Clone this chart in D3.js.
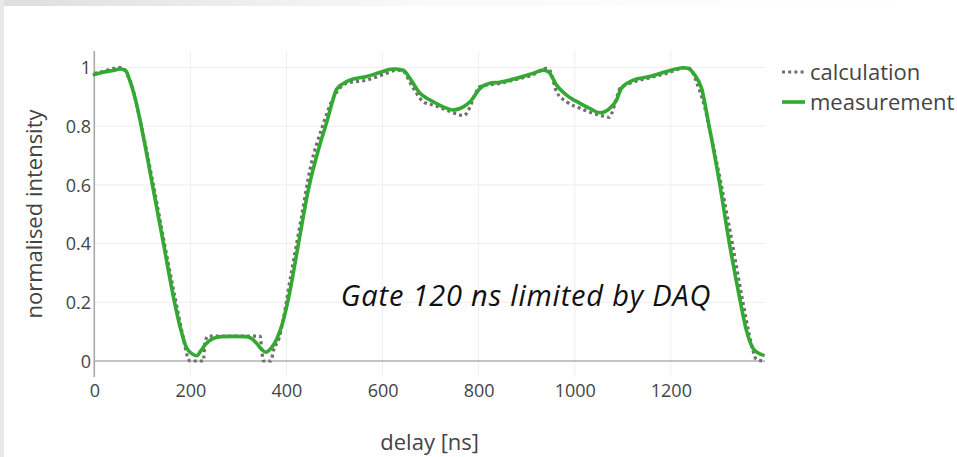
<!DOCTYPE html>
<html>
<head>
<meta charset="utf-8">
<script src="https://cdn.jsdelivr.net/npm/d3@7"></script>
<style>
  html, body { margin: 0; padding: 0; background: #fff; }
  svg { display: block; font-family: "Open Sans", sans-serif; }
</style>
</head>
<body>
<svg id="chart" width="957" height="457"></svg>
<script>
// ---- data ----
const seriesNames = ["calculation", "measurement"];
const xTicks = [0, 200, 400, 600, 800, 1000, 1200];
const yTicks = [0, 0.2, 0.4, 0.6, 0.8, 1];
const yTickLabels = ["0", "0.2", "0.4", "0.6", "0.8", "1"];

const calcX = [0, 15, 33, 54, 62, 67, 78, 88, 99, 123, 146, 170, 185, 193, 199, 227, 230, 237, 345, 349, 352, 368, 372, 385, 410, 430, 450, 475, 497, 525, 567, 608, 629, 640, 664, 685, 705, 733, 761, 768, 775, 782, 793, 803, 844, 880, 913, 941, 948, 962, 983, 1011, 1038, 1066, 1072, 1077, 1087, 1094, 1122, 1156, 1191, 1233, 1243, 1253, 1271, 1282, 1305, 1328, 1350, 1362, 1372, 1378, 1392];
const calcY = [0.98, 0.985, 0.994, 1.0, 0.995, 0.98, 0.94, 0.872, 0.793, 0.6, 0.4, 0.2, 0.08, 0.02, 0.0, 0.0, 0.06, 0.085, 0.085, 0.03, 0.0, 0.0, 0.03, 0.08, 0.3, 0.48, 0.66, 0.8, 0.895, 0.946, 0.957, 0.98, 0.991, 0.99, 0.929, 0.883, 0.872, 0.855, 0.838, 0.836, 0.844, 0.866, 0.91, 0.935, 0.946, 0.96, 0.975, 0.997, 0.99, 0.918, 0.883, 0.861, 0.844, 0.832, 0.83, 0.844, 0.895, 0.929, 0.95, 0.965, 0.98, 1.0, 0.99, 0.952, 0.861, 0.78, 0.6, 0.4, 0.2, 0.1, 0.03, 0.005, 0.0];

const measX = [0, 20, 40, 54, 65, 74, 88, 102, 121, 144, 167, 178, 192, 203, 213, 222, 232, 248, 265, 290, 315, 326, 338, 348, 357, 367, 379, 392, 405, 425, 445, 470, 484, 495, 504, 518, 532, 567, 594, 622, 643, 657, 678, 699, 726, 747, 768, 782, 803, 823, 844, 879, 913, 934, 945, 962, 983, 1011, 1031, 1052, 1073, 1087, 1097, 1122, 1156, 1191, 1226, 1236, 1250, 1264, 1278, 1300, 1322, 1344, 1357, 1371, 1382, 1392];
const measY = [0.976, 0.985, 0.99, 0.995, 0.99, 0.955, 0.875, 0.765, 0.6, 0.4, 0.2, 0.12, 0.045, 0.025, 0.018, 0.035, 0.058, 0.077, 0.083, 0.084, 0.083, 0.078, 0.06, 0.04, 0.03, 0.042, 0.072, 0.13, 0.22, 0.4, 0.58, 0.74, 0.815, 0.88, 0.925, 0.945, 0.957, 0.969, 0.983, 0.995, 0.991, 0.963, 0.912, 0.889, 0.866, 0.855, 0.866, 0.883, 0.929, 0.946, 0.95, 0.963, 0.98, 0.991, 0.986, 0.94, 0.906, 0.878, 0.861, 0.846, 0.861, 0.889, 0.929, 0.957, 0.969, 0.986, 0.999, 0.997, 0.974, 0.929, 0.815, 0.62, 0.4, 0.208, 0.106, 0.043, 0.027, 0.02];

const xTitle = "delay [ns]";
const yTitle = "normalised intensity";
const annotationText = "Gate 120 ns limited by DAQ";

// ---- layout ----
const W = 957, H = 457;
const plot = { left: 94.3, right: 765, top: 51, bottom: 377 };
const svg = d3.select("#chart");

// background (slide texture edge)
const defs = svg.append("defs");
const g1 = defs.append("linearGradient").attr("id", "bgGrad").attr("x1", "0").attr("x2", "1").attr("y1", "0").attr("y2", "0");
g1.append("stop").attr("offset", "0").attr("stop-color", "#dedede");
g1.append("stop").attr("offset", "0.45").attr("stop-color", "#fafafa");
g1.append("stop").attr("offset", "1").attr("stop-color", "#ffffff");
svg.append("rect").attr("width", W).attr("height", H).attr("fill", "url(#bgGrad)");
svg.append("rect").attr("x", 0).attr("y", 0).attr("width", 4).attr("height", H).attr("fill", "#e8e8e8");
svg.append("rect").attr("x", 4).attr("y", 6).attr("width", W - 4).attr("height", H - 6).attr("fill", "#ffffff");

const x = d3.scaleLinear().domain([0, 1396]).range([plot.left, plot.right]);
const y = d3.scaleLinear().domain([0, 1]).range([361, 67.5]);

// grid
const grid = svg.append("g");
grid.selectAll("line.vg").data(xTicks.filter(d => d > 0)).enter().append("line")
  .attr("x1", d => x(d)).attr("x2", d => x(d))
  .attr("y1", plot.top).attr("y2", plot.bottom)
  .attr("stroke", "#eeeeee").attr("stroke-width", 1);
grid.selectAll("line.hg").data(yTicks.filter(d => d > 0)).enter().append("line")
  .attr("x1", plot.left).attr("x2", plot.right)
  .attr("y1", d => y(d)).attr("y2", d => y(d))
  .attr("stroke", "#eeeeee").attr("stroke-width", 1);

// zero line
svg.append("line").attr("x1", plot.left).attr("x2", plot.right)
  .attr("y1", y(0)).attr("y2", y(0)).attr("stroke", "#8a8a8a").attr("stroke-width", 1.2);

// y axis line
svg.append("line").attr("x1", plot.left).attr("x2", plot.left)
  .attr("y1", plot.top).attr("y2", plot.bottom).attr("stroke", "#a8a8a8").attr("stroke-width", 1.6);

// axes via d3 axis generators (no domain / tick lines)
const xAxis = d3.axisBottom(x).tickValues(xTicks).tickSize(0).tickPadding(0).tickFormat(d3.format("d"));
const gx = svg.append("g").attr("transform", `translate(0,${391})`).call(xAxis);
gx.select(".domain").remove();
gx.selectAll("text").attr("fill", "#444").attr("font-size", 18).attr("font-family", "Open Sans")
  .attr("dy", "0.35em").attr("y", 0);

const yAxis = d3.axisLeft(y).tickValues(yTicks).tickSize(0).tickPadding(0).tickFormat((d, i) => yTickLabels[i]);
const gy = svg.append("g").attr("transform", `translate(${91},0)`).call(yAxis);
gy.select(".domain").remove();
gy.selectAll("text").attr("fill", "#444").attr("font-size", 18).attr("font-family", "Open Sans")
  .attr("dy", "0.35em").attr("x", 0);

// lines
const calcData = calcX.map((v, i) => [v, calcY[i]]);
const measData = measX.map((v, i) => [v, measY[i]]);
const line = d3.line().x(d => x(d[0])).y(d => y(d[1])).curve(d3.curveMonotoneX);

svg.append("path").datum(calcData).attr("d", line)
  .attr("fill", "none").attr("stroke", "#6e6e6e").attr("stroke-width", 3.2)
  .attr("stroke-dasharray", "3,3.2");
svg.append("path").datum(measData).attr("d", line)
  .attr("fill", "none").attr("stroke", "#33a832").attr("stroke-width", 3.6)
  .attr("stroke-linejoin", "round").attr("stroke-linecap", "round");

// annotation
svg.append("text").attr("x", 526).attr("y", 306).attr("text-anchor", "middle")
  .attr("font-style", "italic").attr("font-size", 29).attr("letter-spacing", 0.8).attr("fill", "#111")
  .text(annotationText);

// titles
svg.append("text").attr("x", (plot.left + plot.right) / 2).attr("y", 450)
  .attr("text-anchor", "middle").attr("font-size", 22).attr("fill", "#444").text(xTitle);
svg.append("text").attr("transform", `translate(42,${(plot.top + plot.bottom) / 2}) rotate(-90)`)
  .attr("text-anchor", "middle").attr("font-size", 22).attr("fill", "#444").text(yTitle);

// legend
const legend = svg.append("g");
const legendY = [72, 102];
legend.append("line").attr("x1", 782).attr("x2", 805).attr("y1", legendY[0]).attr("y2", legendY[0])
  .attr("stroke", "#6e6e6e").attr("stroke-width", 3.2).attr("stroke-dasharray", "3,3.2");
legend.append("line").attr("x1", 782).attr("x2", 805).attr("y1", legendY[1]).attr("y2", legendY[1])
  .attr("stroke", "#33a832").attr("stroke-width", 3.6);
legend.selectAll("text").data(seriesNames).enter().append("text")
  .attr("x", 810).attr("y", (d, i) => legendY[i]).attr("dy", "0.35em")
  .attr("font-size", 22).attr("fill", "#444").text(d => d);
</script>
</body>
</html>
